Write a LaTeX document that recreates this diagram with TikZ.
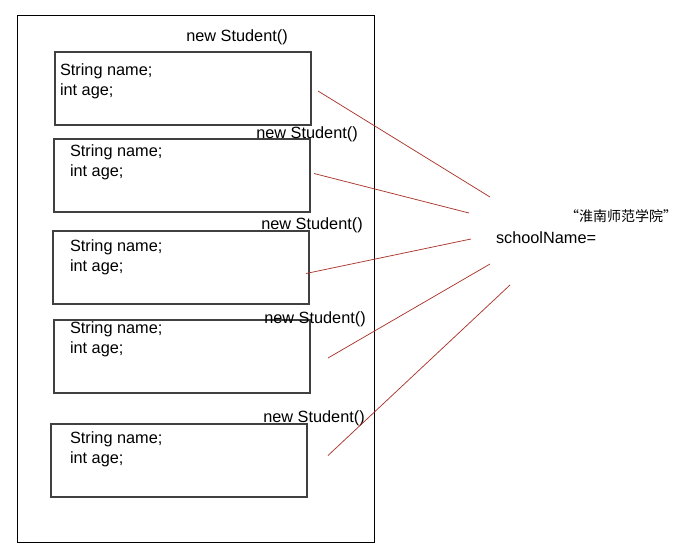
\documentclass[tikz,border=0pt]{standalone}
\usepackage{fontspec}
\setmainfont{Liberation Sans}
\newfontfamily\cjk{Noto Sans CJK SC}
\usepackage{tikz}
\usetikzlibrary{positioning, calc}
\definecolor{linkred}{RGB}{170,55,45}

\begin{document}
\begin{tikzpicture}[x=1pt, y=-1pt,
                    every node/.style = {inner sep=0pt, outer sep=0pt},
                    heapbox/.style = {draw, line width=0.9pt, anchor=north west,
                      minimum width=357pt, minimum height=527pt},
                    objbox/.style = {draw=black!75, line width=1.1pt, anchor=north west,
                      minimum width=256pt, minimum height=73pt},
                    field/.style = {anchor=base west, align=left,
                      font=\fontsize{16.3}{20}\selectfont},
                    ctor/.style = {anchor=base, font=\fontsize{16.3}{20}\selectfont},
                    link/.style = {draw=linkred, line width=0.75pt}]
  \useasboundingbox (0,0) rectangle (685,549);
  \node[heapbox] (heap) at (17,15) {};
  \node[objbox] (stuA) at (55,52) {};
  \node[objbox] (stuB) at (54,139) {};
  \node[objbox] (stuC) at (53,231) {};
  \node[objbox] (stuD) at (54,320) {};
  \node[objbox] (stuE) at (51,424) {};
  \node[field] (fieldA) at (60,95) {String name;\\int age;};
  \node[field] (fieldB) at (70,176) {String name;\\int age;};
  \node[field] (fieldC) at (70,271) {String name;\\int age;};
  \node[field] (fieldD) at (70,353) {String name;\\int age;};
  \node[field] (fieldE) at (70,463) {String name;\\int age;};
  \node[ctor] (newA) at (237,41) {new Student()};
  \node[ctor] (newB) at (307,138) {new Student()};
  \node[ctor] (newC) at (312,229) {new Student()};
  \node[ctor] (newD) at (315,323) {new Student()};
  \node[ctor] (newE) at (314,422) {new Student()};
  \node[field] (school) at (496,243) {schoolName=};
  \node[anchor=base west, font=\cjk\fontsize{14}{16}\selectfont] (value) at (565,221)
    {“淮南师范学院”};
  \coordinate (endA) at (490,197);
  \coordinate (endB) at (469,213);
  \coordinate (endC) at (471,239);
  \coordinate (endD) at (490,264);
  \coordinate (endE) at (510,285);
  \draw[link] ([shift={(7,2.5)}]stuA.east) -- (endA);
  \draw[link] ([shift={(4,-2)}]stuB.east) -- (endB);
  \draw[link] ([shift={(-3,6)}]stuC.east) -- (endC);
  \draw[link] ([shift={(18,1.5)}]stuD.east) -- (endD);
  \draw[link] ([shift={(21,-5)}]stuE.east) -- (endE);
\end{tikzpicture}
\end{document}
